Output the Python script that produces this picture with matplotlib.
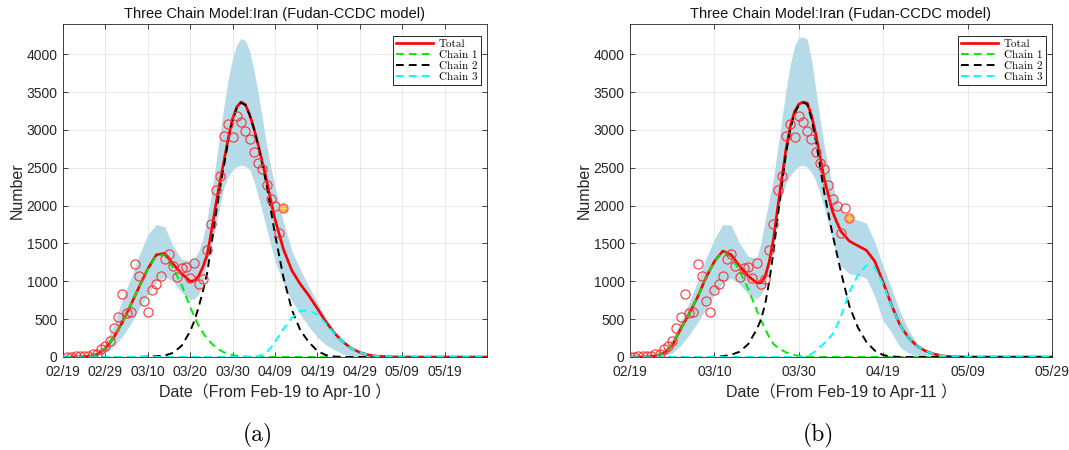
import matplotlib
matplotlib.use('Agg')
import matplotlib.pyplot as plt

plt.rcParams['mathtext.fontset'] = 'cm'
plt.rcParams['font.family'] = ['Liberation Sans', 'Noto Sans CJK SC', 'DejaVu Sans']

# ---------------- data ----------------
# Iran daily new confirmed cases, Feb-19 ... Apr-11
obs = [2, 3, 13, 10, 15, 18, 34, 44, 106, 143, 205, 385, 523, 835, 586, 591,
       1234, 1076, 743, 595, 881, 958, 1075, 1289, 1365, 1209, 1053, 1178, 1192,
       1046, 1237, 966, 1028, 1411, 1762, 2206, 2389, 2926, 3076, 2901, 3186,
       3110, 2987, 2875, 2715, 2560, 2483, 2274, 2089, 1997, 1634, 1972, 1837]

# model grid (days since Feb-19): every 2 days, daily around the main peak
t_model = list(range(0, 30, 2)) + list(range(30, 51)) + list(range(52, 101, 2))

# ---- panel (a): fit to Apr-10 ----
c1_a = ([0, 0, 2, 10, 35, 110, 260, 460, 690, 930, 1160, 1340, 1350, 1170, 950]
        + [660, 530, 410, 320, 240, 180, 130, 90, 60, 40, 25, 16, 10, 6, 3, 1, 0, 0, 0, 0, 0]
        + [0] * 25)
c2_a = ([0] * 9 + [2, 5, 10, 20, 55, 150]
        + [340, 480, 660, 870, 1110, 1480, 1870, 2220, 2540, 2860, 3125, 3290, 3360,
           3330, 3200, 3020, 2800, 2550, 2280, 1950, 1620]
        + [1050, 620, 350, 195, 80, 25, 6, 1] + [0] * 17)
c3_a = ([0] * 15
        + [0] * 14 + [2, 5, 10, 30, 60, 120, 200]
        + [370, 520, 610, 615, 560, 440, 310, 200, 115, 60, 28, 12, 5, 2] + [0] * 11)
tot_a = ([0, 0, 2, 10, 35, 110, 260, 460, 690, 932, 1165, 1350, 1370, 1225, 1100]
         + [1000, 1010, 1070, 1190, 1350, 1660, 2000, 2310, 2600, 2900, 3150, 3306,
            3370, 3336, 3205, 3026, 2810, 2580, 2340, 2070, 1820]
         + [1420, 1140, 960, 810, 640, 465, 316, 201, 115, 60, 28, 12, 5, 2] + [0] * 11)
up_a = ([0, 0, 5, 20, 70, 190, 420, 760, 1040, 1350, 1620, 1750, 1720, 1460, 1290]
        + [1270, 1310, 1400, 1570, 1830, 2160, 2540, 2950, 3330, 3680, 3950, 4130,
           4210, 4180, 4050, 3800, 3500, 3160, 2810, 2510, 2250]
        + [1780, 1400, 1150, 930, 720, 510, 340, 200, 95, 45, 20, 8, 3, 1] + [0] * 11)
lo_a = ([0, 0, 0, 3, 15, 50, 140, 270, 440, 640, 830, 990, 1060, 1000, 850]
        + [760, 770, 830, 1000, 1250, 1490, 1720, 2000, 2250, 2390, 2470, 2515,
           2535, 2520, 2480, 2330, 2130, 1920, 1700, 1480, 1270]
        + [960, 740, 560, 400, 260, 160, 95, 40, 10, 3] + [0] * 15)

# ---- panel (b): fit to Apr-11 ----
c1_b = ([0, 0, 3, 15, 50, 150, 370, 570, 790, 1050, 1260, 1390, 1320, 1130, 900]
        + [620, 490, 370, 260, 170, 125, 90, 60, 40, 25, 15, 9, 5, 2, 1, 0, 0, 0, 0, 0, 0]
        + [0] * 25)
c2_b = ([0] * 10 + [3, 10, 30, 70, 170]
        + [360, 490, 690, 1000, 1390, 1850, 2280, 2700, 3010, 3220, 3325, 3360,
           3340, 3150, 2870, 2530, 2180, 1900, 1620, 1370, 1120]
        + [670, 390, 200, 85, 25, 6, 1] + [0] * 18)
c3_b = ([0] * 15
        + [0] * 12 + [10, 40, 80, 130, 180, 240, 300, 410, 540]
        + [860, 1080, 1210, 1180, 960, 675, 420, 255, 145, 80, 40, 15, 5, 2] + [0] * 11)
tot_b = ([0, 0, 3, 15, 50, 150, 370, 570, 790, 1050, 1263, 1400, 1350, 1200, 1070]
         + [980, 980, 1060, 1260, 1560, 1975, 2370, 2760, 3050, 3245, 3340, 3369,
            3355, 3192, 2951, 2660, 2360, 2140, 1920, 1780, 1660]
         + [1530, 1470, 1410, 1265, 985, 681, 421, 255, 145, 80, 40, 15, 5, 2] + [0] * 11)
up_b = ([0, 0, 8, 30, 90, 240, 470, 720, 1000, 1300, 1560, 1750, 1740, 1500, 1330]
        + [1310, 1500, 1800, 2080, 2370, 2760, 3150, 3540, 3870, 4110, 4220, 4230,
           4200, 3930, 3550, 3150, 2800, 2500, 2270, 2090, 1950]
        + [1840, 1810, 1770, 1520, 1200, 900, 600, 360, 180, 80, 30, 10, 3, 1] + [0] * 11)
lo_b = ([0, 0, 0, 3, 15, 50, 150, 290, 450, 640, 830, 980, 1040, 960, 830]
        + [770, 820, 930, 1180, 1530, 1880, 2130, 2300, 2400, 2470, 2520, 2535,
           2510, 2440, 2330, 2170, 1980, 1760, 1530, 1350, 1200]
        + [1100, 1080, 1040, 800, 480, 320, 130, 50, 15, 4] + [0] * 15)

ticks_a = [0, 10, 20, 30, 40, 50, 60, 70, 80, 90]
ticklabels_a = ['02/19', '02/29', '03/10', '03/20', '03/30', '04/09', '04/19',
                '04/29', '05/09', '05/19']
ticks_b = [0, 20, 40, 60, 80, 100]
ticklabels_b = ['02/19', '03/10', '03/30', '04/19', '05/09', '05/29']
yticks = [0, 500, 1000, 1500, 2000, 2500, 3000, 3500, 4000]
legend_labels = ['Total', 'Chain 1', 'Chain 2', 'Chain 3']

title = 'Three Chain Model:Iran (Fudan-CCDC model)'
xlabel_a = 'Date\uff08From Feb-19 to Apr-10 \uff09'
xlabel_b = 'Date\uff08From Feb-19 to Apr-11 \uff09'

# ---------------- drawing ----------------
fig = plt.figure(figsize=(10.69, 4.5), dpi=100)
W, H = 1069, 450
ax_a = fig.add_axes([63 / W, 93 / H, 424 / W, 333 / H])
ax_b = fig.add_axes([630 / W, 93 / H, 422 / W, 333 / H])

dark = '#262626'
dash = (0, (4, 2.6))
serif = ['cmr10', 'DejaVu Serif']


def panel(ax, c1, c2, c3, tot, up, lo, n_obs, day0, ticks, ticklabels, xlabel):
    ax.set_axisbelow(True)
    ax.grid(True, color='#e4e4e4', lw=0.6)
    ax.fill_between(t_model, lo, up, color='#b6dbe8', lw=0, zorder=1)
    ax.plot(t_model, tot, color='#ff0000', lw=1.9, label=legend_labels[0], zorder=3)
    ax.plot(t_model, c1, color='#00ee00', lw=1.4, ls=dash, label=legend_labels[1], zorder=4)
    ax.plot(t_model, c2, color='#000000', lw=1.4, ls=dash, label=legend_labels[2], zorder=4)
    ax.plot(t_model, c3, color='#00ffff', lw=1.4, ls=dash, label=legend_labels[3], zorder=4)
    days = [day0 + i for i in range(n_obs)]
    vals = obs[:n_obs]
    ax.plot(days[:-1], vals[:-1], 'o', mfc='none', mec='#ff3333', ms=6.6, mew=0.8, zorder=5)
    ax.plot(days[-1:], vals[-1:], 'o', mfc='#f4a460', mec='#ff5533', ms=6.6, mew=0.8, zorder=6)
    ax.plot(days[-1:], vals[-1:], '+', color='#ffe34d', ms=4.5, mew=0.9, zorder=7)

    ax.set_xlim(0, 100)
    ax.set_ylim(0, 4400)
    ax.set_xticks(ticks)
    ax.set_xticklabels(ticklabels)
    ax.set_yticks(yticks)
    ax.tick_params(direction='in', top=True, right=True, length=3.5, width=0.6,
                   colors=dark, labelsize=10)
    ax.tick_params(axis='x', pad=6)
    ax.tick_params(axis='y', pad=4)
    for s in ax.spines.values():
        s.set_color(dark)
        s.set_linewidth(0.6)
    ax.set_title(title, fontsize=10.5, color='#111111', pad=4)
    ax.set_xlabel(xlabel, fontsize=11.5, color=dark, labelpad=3)
    ax.set_ylabel('Number', fontsize=11.5, color=dark, labelpad=1)
    leg = ax.legend(loc='upper right', bbox_to_anchor=(0.99, 0.972),
                    prop={'family': serif, 'size': 8},
                    frameon=True, fancybox=False, edgecolor=dark, framealpha=1,
                    borderpad=0.3, labelspacing=0.12, handlelength=3.3,
                    handletextpad=0.5, borderaxespad=0.2)
    leg.get_frame().set_linewidth(0.7)


panel(ax_a, c1_a, c2_a, c3_a, tot_a, up_a, lo_a, 52, 1, ticks_a, ticklabels_a, xlabel_a)
panel(ax_b, c1_b, c2_b, c3_b, tot_b, up_b, lo_b, 53, 0, ticks_b, ticklabels_b, xlabel_b)

fig.text(258 / W, 1 - 435 / H, '(a)', family=serif, fontsize=17, ha='center', va='center')
fig.text(818 / W, 1 - 435 / H, '(b)', family=serif, fontsize=17, ha='center', va='center')

fig.savefig('out.png', dpi=100)
